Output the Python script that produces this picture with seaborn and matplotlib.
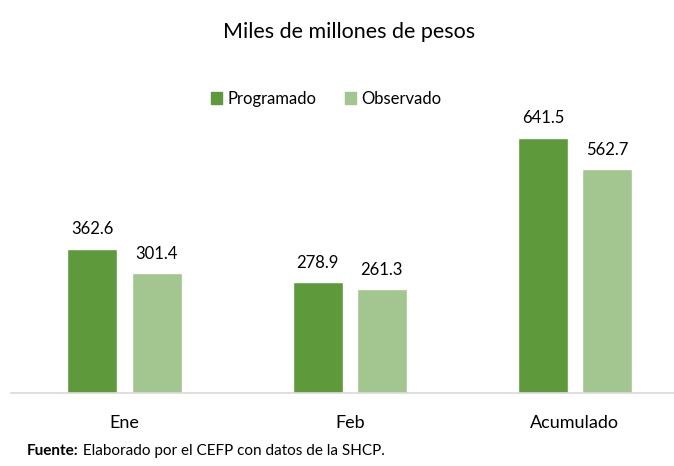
import matplotlib
matplotlib.use('Agg')
import matplotlib.pyplot as plt
import matplotlib.patches as mpatches
import pandas as pd
import seaborn as sns

# datos (miles de millones de pesos)
categorias = ['Ene', 'Feb', 'Acumulado']
programado = [362.6, 278.9, 641.5]
observado = [301.4, 261.3, 562.7]
series = ['Programado', 'Observado']

COLOR_PROG = '#5e9a3c'
COLOR_OBS = '#a3c58f'

df = pd.DataFrame({
    'categoria': categorias * 2,
    'serie': [series[0]] * 3 + [series[1]] * 3,
    'valor': programado + observado,
})

sns.set_style('white')
plt.rcParams['font.family'] = ['Lato', 'DejaVu Sans']
plt.rcParams['text.color'] = 'black'
plt.rcParams['xtick.color'] = 'black'

fig = plt.figure(figsize=(6.74, 4.66), dpi=100)
ax = fig.add_axes([0.016, 73 / 466, 0.984, 323 / 466])

sns.barplot(data=df, x='categoria', y='valor', hue='serie',
            palette=[COLOR_PROG, COLOR_OBS], width=0.57, gap=0.22,
            legend=False, ax=ax, saturation=1)

for cont in ax.containers:
    ax.bar_label(cont, fmt='%.1f', padding=8, fontsize=12, color='black')

ax.set_xlim(-0.505, 2.44)
ax.set_ylim(0, 811)
ax.set_xlabel('')
ax.set_ylabel('')
ax.set_yticks([])
ax.tick_params(axis='x', length=0, labelsize=13, pad=16, labelcolor='black')
for side in ['top', 'left', 'right']:
    ax.spines[side].set_visible(False)
ax.spines['bottom'].set_color('#d9d9d9')
ax.spines['bottom'].set_linewidth(1.2)

fig.text(0.518, 0.932, 'Miles de millones de pesos', ha='center', va='center',
         fontsize=15.5)

handles = [mpatches.Patch(color=COLOR_PROG, label=series[0]),
           mpatches.Patch(color=COLOR_OBS, label=series[1])]
fig.legend(handles=handles, loc='center', bbox_to_anchor=(0.484, 0.788),
           ncol=2, frameon=False, fontsize=12, handlelength=0.7,
           handleheight=0.7, handletextpad=0.3, columnspacing=1.7)

# pie de figura: "Fuente:" en negritas
t1 = fig.text(0.040, 0.032, 'Fuente:', ha='left', va='center',
              fontsize=11, fontweight='bold')
ax.annotate(' Elaborado por el CEFP con datos de la SHCP.', xy=(1, 0.5),
            xycoords=t1, va='center', ha='left', fontsize=11)

fig.savefig('out.png', dpi=100)
